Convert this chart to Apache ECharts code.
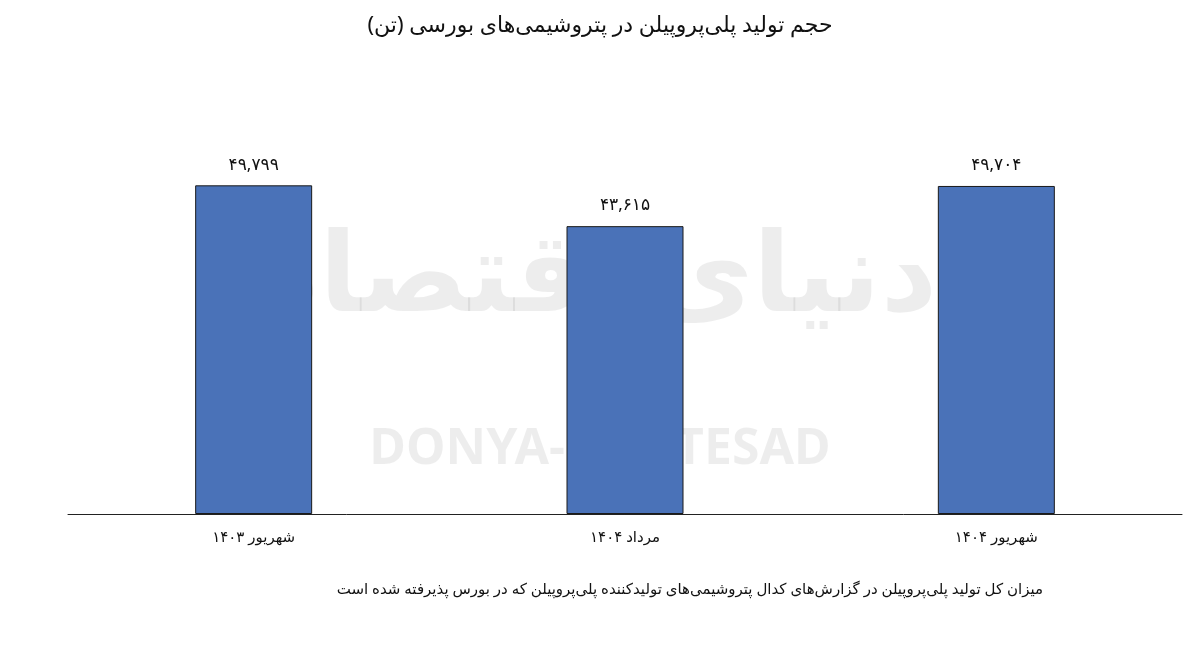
<!DOCTYPE html>
<html><head><meta charset="utf-8">
<script src="https://cdn.jsdelivr.net/npm/echarts@6/dist/echarts.min.js"></script>
<style>html,body{margin:0;background:#fff}#c{width:1200px;height:658px}</style>
</head><body><div id="c"></div>
<script>
// داده‌ها
var categories = ['شهریور ۱۴۰۳', 'مرداد ۱۴۰۴', 'شهریور ۱۴۰۴'];
var values = [49799, 43615, 49704];

var chart = echarts.init(document.getElementById('c'));
var font = '"Noto Sans", "DejaVu Sans", sans-serif';

function faDigits(n) {
	var s = n.toLocaleString('en-US');
	return s.replace(/\d/g, function (d) { return '۰۱۲۳۴۵۶۷۸۹'[d]; });
}

chart.setOption({
	animation: false,
	title: {
		text: 'حجم تولید پلی‌پروپیلن در پتروشیمی‌های بورسی (تن)',
		left: 'center', top: 10,
		textStyle: { fontFamily: font, fontSize: 22, fontWeight: 'normal', color: '#111' }
	},
	graphic: [
		{ type: 'text', left: 'center', top: 225, z: 0,
		  style: { text: 'دنیای اقتصاد', font: 'bold 110px ' + font, fill: 'rgba(0,0,0,0.07)' } },
		{ type: 'text', left: 'center', top: 425, z: 0,
		  style: { text: 'DONYA-E-EQTESAD', font: 'bold 50px ' + font, fill: 'rgba(0,0,0,0.07)' } },
		{ type: 'text', right: 157, top: 582,
		  style: { text: 'میزان کل تولید پلی‌پروپیلن در گزارش‌های کدال پتروشیمی‌های تولیدکننده پلی‌پروپیلن که در بورس پذیرفته شده است',
		           font: '15px ' + font, fill: '#111' } }
	],
	grid: { left: 68, right: 18, top: 118, bottom: 144 },
	xAxis: {
		type: 'category', data: categories,
		axisLine: { lineStyle: { color: '#222', width: 1 } },
		axisTick: { show: false },
		axisLabel: { fontFamily: font, fontSize: 15, color: '#111', margin: 16 }
	},
	yAxis: { type: 'value', min: 0, max: 60000, show: false, splitLine: { show: false } },
	series: [{
		type: 'bar', data: values, barWidth: 117, z: 2,
		itemStyle: { color: '#4a72b8', borderColor: '#1a1a1a', borderWidth: 1 },
		label: {
			show: true, position: 'top', distance: 12,
			fontFamily: font, fontSize: 17, color: '#111',
			formatter: function (p) { return faDigits(p.value); }
		}
	}]
});
</script></body></html>
